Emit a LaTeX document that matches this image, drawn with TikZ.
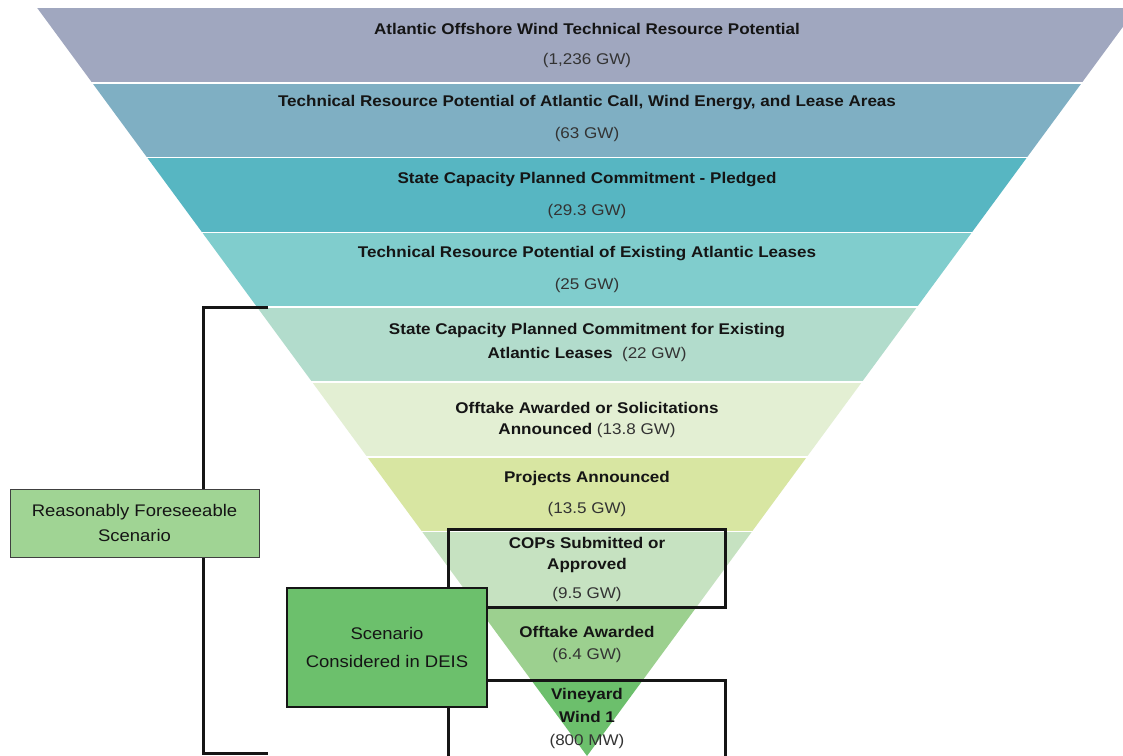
\documentclass[tikz,border=0pt]{standalone}
\usepackage{fontspec}
\setmainfont{Liberation Sans}[FakeStretch=1.1]
\definecolor{b1}{HTML}{A0A7BF}
\definecolor{b2}{HTML}{7FAFC3}
\definecolor{b3}{HTML}{57B6C2}
\definecolor{b4}{HTML}{80CDCD}
\definecolor{b5}{HTML}{B2DCCC}
\definecolor{b6}{HTML}{E3EFD3}
\definecolor{b7}{HTML}{D8E6A2}
\definecolor{b8}{HTML}{C6E2C1}
\definecolor{b9}{HTML}{9CD08F}
\definecolor{b10}{HTML}{6CBF6C}
\definecolor{rfsfill}{HTML}{A0D494}
\definecolor{scfill}{HTML}{6CC06C}
\definecolor{ink}{HTML}{151515}
\definecolor{numink}{HTML}{333333}
\tikzset{
  lbl/.style={font=\bfseries\fontsize{15.5pt}{18pt}\selectfont, text=ink, inner sep=0pt},
  num/.style={font=\fontsize{15.5pt}{18pt}\selectfont, text=numink, inner sep=0pt},
  bracketline/.style={line width=3pt, draw=ink},
  outlinebox/.style={draw=ink, line width=3pt, inner sep=0pt},
  sidebox/.style={font=\fontsize{16.8pt}{25pt}\selectfont, text=ink, align=center, inner sep=0pt},
  gap/.style={draw=white, line width=1.5pt}
}
\begin{document}
\begin{tikzpicture}[x=1pt,y=-1pt]
\useasboundingbox (0,0) rectangle (1123,755);
\clip (0,0) rectangle (1123,755);
\fill[white] (0,0) rectangle (1123,755);
% funnel bands
\foreach \c [count=\i from 0] in {b1,b2,b3,b4,b5,b6,b7,b8,b9,b10} {
  \pgfmathsetmacro\ya{8+74.8*\i}
  \pgfmathsetmacro\yb{8+74.8*(\i+1)}
  \pgfmathsetmacro\wa{(756-\ya)*0.735}
  \pgfmathsetmacro\wb{(756-\yb)*0.735}
  \fill[\c] (587-\wa,\ya) -- (587+\wa,\ya) -- (587+\wb,\yb) -- (587-\wb,\yb) -- cycle;
}
\foreach \i in {1,...,9} {
  \pgfmathsetmacro\ya{8+74.8*\i}
  \pgfmathsetmacro\wa{(756-\ya)*0.735}
  \draw[gap] (587-\wa-2,\ya) -- (587+\wa+2,\ya);
}
% bracket
\coordinate (bt) at (268,307);
\coordinate (bb) at (268,753);
\coordinate (bx) at (203,530);
\draw[bracketline] (bt) -- (bx |- bt) -- (bx |- bb) -- (bb);
% outlined boxes
\node[outlinebox, minimum width=277pt, minimum height=78pt] (copsbox) at (586.5,568) {};
\node[outlinebox, minimum width=277pt, minimum height=90pt] (vwbox) at (586.5,725) {};
% band texts
\node[lbl] (t1) at (587,29) {Atlantic Offshore Wind Technical Resource Potential};
\node[num] (n1) at (587,60) {(1,236 GW)};
\node[lbl] (t2) at (587,103) {Technical Resource Potential of Atlantic Call, Wind Energy, and Lease Areas};
\node[num] (n2) at (587,134) {(63 GW)};
\node[lbl] (t3) at (587,180) {State Capacity Planned Commitment - Pledged};
\node[num] (n3) at (587,211) {(29.3 GW)};
\node[lbl] (t4) at (587,254) {Technical Resource Potential of Existing Atlantic Leases};
\node[num] (n4) at (587,285) {(25 GW)};
\node[lbl] (t5) at (587,331) {State Capacity Planned Commitment for Existing};
\node[num] (n5) at (587,354) {\textcolor{ink}{\textbf{Atlantic Leases}}\ \ (22 GW)};
\node[lbl] (t6) at (587,408) {Offtake Awarded or Solicitations};
\node[num] (n6) at (587,430) {\textcolor{ink}{\textbf{Announced}} (13.8 GW)};
\node[lbl] (t7) at (587,478) {Projects Announced};
\node[num] (n7) at (587,509) {(13.5 GW)};
\node[lbl] (t8) at (587,543) {COPs Submitted or};
\node[lbl] (t8b) at (587,565) {Approved};
\node[num] (n8) at (587,594) {(9.5 GW)};
\node[lbl] (t9) at (587,632) {Offtake Awarded};
\node[num] (n9) at (587,655) {(6.4 GW)};
\node[lbl] (t10) at (587,695) {Vineyard};
\node[lbl] (t10b) at (587,717) {Wind 1};
\node[num] (n10) at (587,741) {(800 MW)};
% side boxes
\node[sidebox, draw=black!75, line width=1pt, fill=rfsfill, minimum width=249pt, minimum height=68pt] (rfs) at (134.5,523) {Reasonably Foreseeable\\Scenario};
\node[sidebox, font=\fontsize{16.8pt}{28pt}\selectfont, draw=ink, line width=2pt, fill=scfill, minimum width=200pt, minimum height=119pt] (scen) at (387,647.5) {Scenario\\Considered in DEIS};
\end{tikzpicture}
\end{document}
